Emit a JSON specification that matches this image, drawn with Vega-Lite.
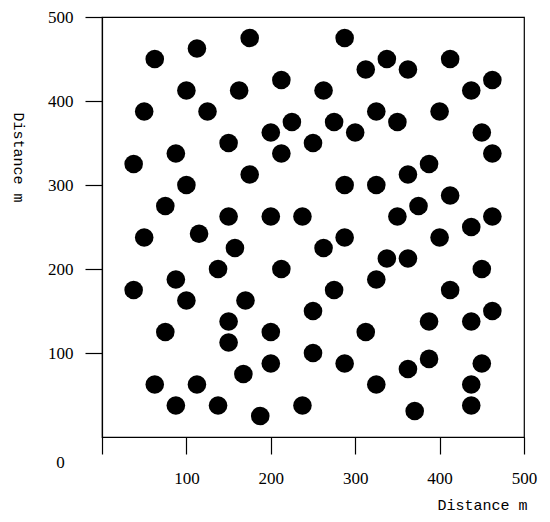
{
  "$schema": "https://vega.github.io/schema/vega-lite/v6.json",
  "autosize": {"type": "none"},
  "padding": {"left": 102, "top": 17, "right": 26, "bottom": 85},
  "width": 422,
  "height": 420,
  "background": "white",
  "config": {
    "view": {"stroke": "black", "strokeWidth": 1.2},
    "axis": {"grid": false, "domainColor": "black", "domainWidth": 1.2, "tickColor": "black", "tickWidth": 1.2, "tickSize": 17, "labelFont": "Liberation Serif", "labelFontSize": 17, "labelColor": "black", "titleFont": "Liberation Mono", "titleFontSize": 15, "titleFontWeight": "normal", "titleColor": "black", "labelFlush": false, "labelOverlap": false}
  },
  "data": {
    "values": [
      {"x": 175, "y": 475}, {"x": 112.5, "y": 462.5}, {"x": 62.5, "y": 450}, {"x": 212.5, "y": 425},
      {"x": 100, "y": 412.5}, {"x": 162.5, "y": 412.5}, {"x": 50, "y": 387.5}, {"x": 125, "y": 387.5},
      {"x": 225, "y": 375}, {"x": 200, "y": 362.5}, {"x": 150, "y": 350}, {"x": 250, "y": 350},
      {"x": 87.5, "y": 337.5}, {"x": 212.5, "y": 337.5}, {"x": 37.5, "y": 325}, {"x": 175, "y": 312.5},
      {"x": 100, "y": 300}, {"x": 75, "y": 275}, {"x": 150, "y": 262.5}, {"x": 200, "y": 262.5},
      {"x": 237.5, "y": 262.5}, {"x": 115, "y": 242},
      {"x": 287.5, "y": 475}, {"x": 337.5, "y": 450}, {"x": 312.5, "y": 437.5}, {"x": 362.5, "y": 437.5},
      {"x": 412.5, "y": 450}, {"x": 462.5, "y": 425}, {"x": 437.5, "y": 412.5}, {"x": 262.5, "y": 412.5},
      {"x": 325, "y": 387.5}, {"x": 400, "y": 387.5}, {"x": 275, "y": 375}, {"x": 350, "y": 375},
      {"x": 300, "y": 362.5}, {"x": 450, "y": 362.5}, {"x": 462.5, "y": 337.5}, {"x": 387.5, "y": 325},
      {"x": 362.5, "y": 312.5}, {"x": 287.5, "y": 300}, {"x": 325, "y": 300}, {"x": 412.5, "y": 287.5},
      {"x": 375, "y": 275}, {"x": 350, "y": 262.5}, {"x": 462.5, "y": 262.5}, {"x": 437.5, "y": 250},
      {"x": 50, "y": 237.5}, {"x": 157.5, "y": 225}, {"x": 137.5, "y": 200}, {"x": 212.5, "y": 200},
      {"x": 87.5, "y": 187.5}, {"x": 37.5, "y": 175}, {"x": 100, "y": 162.5}, {"x": 170, "y": 162.5},
      {"x": 250, "y": 150}, {"x": 150, "y": 137.5}, {"x": 75, "y": 125}, {"x": 200, "y": 125},
      {"x": 150, "y": 112.5}, {"x": 250, "y": 100}, {"x": 200, "y": 87.5}, {"x": 167.5, "y": 75},
      {"x": 62.5, "y": 62.5}, {"x": 112.5, "y": 62.5}, {"x": 87.5, "y": 37.5}, {"x": 137.5, "y": 37.5},
      {"x": 237.5, "y": 37.5}, {"x": 187.5, "y": 25},
      {"x": 287.5, "y": 237.5}, {"x": 262.5, "y": 225}, {"x": 400, "y": 237.5}, {"x": 337.5, "y": 212.5},
      {"x": 362.5, "y": 212.5}, {"x": 450, "y": 200}, {"x": 325, "y": 187.5}, {"x": 275, "y": 175},
      {"x": 412.5, "y": 175}, {"x": 462.5, "y": 150}, {"x": 387.5, "y": 137.5}, {"x": 437.5, "y": 137.5},
      {"x": 312.5, "y": 125}, {"x": 287.5, "y": 87.5}, {"x": 387.5, "y": 93}, {"x": 362.5, "y": 81},
      {"x": 450, "y": 87.5}, {"x": 325, "y": 62.5}, {"x": 437.5, "y": 62.5}, {"x": 370.5, "y": 31},
      {"x": 437.5, "y": 37.5}
    ]
  },
  "mark": {"type": "circle", "color": "black", "opacity": 1, "size": 346, "clip": false},
  "encoding": {
    "x": {
      "field": "x", "type": "quantitative",
      "scale": {"domain": [0, 500], "nice": false, "zero": false},
      "axis": {
        "title": "Distance m",
        "values": [0, 100, 200, 300, 400, 500],
        "labelPadding": {"condition": {"test": "datum.value === 0", "value": 0}, "value": 16},
        "labelOffset": {"condition": {"test": "datum.value === 0", "value": -42}, "value": 0},
        "titleX": 425, "titleY": 72, "titleAlign": "right", "titleBaseline": "alphabetic", "titleAnchor": null
      }
    },
    "y": {
      "field": "y", "type": "quantitative",
      "scale": {"domain": [0, 500], "nice": false, "zero": false},
      "axis": {
        "title": "Distance m",
        "values": [100, 200, 300, 400, 500],
        "labelPadding": 12,
        "titleAngle": 90, "titleX": -84, "titleY": 95, "titleAlign": "left", "titleBaseline": "middle"
      }
    }
  }
}
